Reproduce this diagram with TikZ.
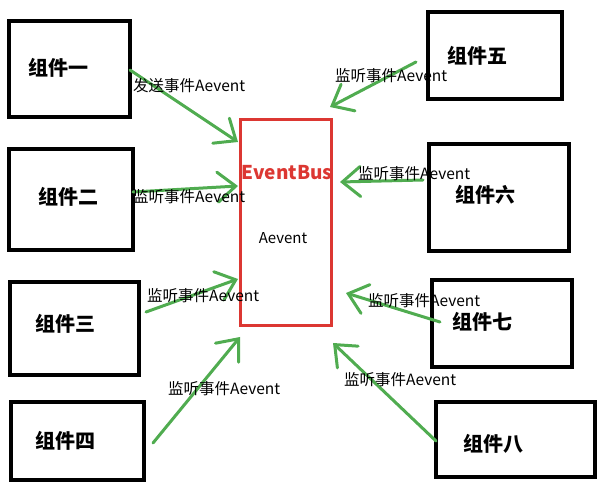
\documentclass[tikz,border=0pt]{standalone}
\usepackage{fontspec}
\setmainfont{Noto Sans CJK SC}
\usetikzlibrary{positioning,arrows.meta}
\definecolor{busred}{RGB}{220,55,50}
\definecolor{pen}{RGB}{80,172,80}

\begin{document}
\begin{tikzpicture}[x=1pt,y=-1pt,
	comp/.style={draw=black,line width=4pt,minimum width=#1,inner sep=0pt},
	compname/.style={font=\fontsize{20}{20}\selectfont\bfseries},
	msg/.style={font=\fontsize{15.5}{15.5}\selectfont,anchor=west,inner sep=0pt},
	send/.style={draw=pen,line width=3pt,line cap=round,
		-{Straight Barb[length=18pt,width=30pt,line cap=round]}}]

		\useasboundingbox (0,0) rectangle (598,500);

		% the bus in the middle
		\node[draw=busred,line width=3pt,minimum width=91pt,minimum height=206pt,inner sep=0pt] (bus) at (285.5,223) {};
		\node[font=\fontsize{19}{19}\selectfont\bfseries,text=busred] (busname) at (287,173) {EventBus};
		\node[font=\fontsize{15}{15}\selectfont] (busevent) at (283,238) {Aevent};

		% the left components
		\node[comp=121pt,minimum height=96pt] (c1) at (69.5,69) {};
		\node[compname] (n1) at (58,68) {组件一};
		\node[comp=124pt,minimum height=101pt] (c2) at (71,199.5) {};
		\node[compname] (n2) at (68,197) {组件二};
		\node[comp=129pt,minimum height=93pt] (c3) at (74.5,328.5) {};
		\node[compname] (n3) at (65,324) {组件三};
		\node[comp=133pt,minimum height=78pt] (c4) at (77.5,441) {};
		\node[compname] (n4) at (65,441) {组件四};

		% the right components
		\node[comp=134pt,minimum height=87pt] (c5) at (495,55.5) {};
		\node[compname] (n5) at (477,56) {组件五};
		\node[comp=140pt,minimum height=107pt] (c6) at (499,197.5) {};
		\node[compname] (n6) at (485,195) {组件六};
		\node[comp=140pt,minimum height=87pt] (c7) at (502,323.5) {};
		\node[compname] (n7) at (482,322) {组件七};
		\node[comp=159pt,minimum height=75pt] (c8) at (515.5,439.5) {};
		\node[compname] (n8) at (493,444) {组件八};

		% where the strokes start and end
		\coordinate (s1) at (130,70);   \coordinate (e1) at (238,142);
		\coordinate (s2) at (133,192);  \coordinate (e2) at (238,186);
		\coordinate (s3) at (146,312);  \coordinate (e3) at (238,279);
		\coordinate (s4) at (153,443);  \coordinate (e4) at (240,337);
		\coordinate (s5) at (416,62);   \coordinate (e5) at (330,107);
		\coordinate (s6) at (423,180);  \coordinate (e6) at (340,182);
		\coordinate (s7) at (440,322);  \coordinate (e7) at (346,293);
		\coordinate (s8) at (436,441);  \coordinate (e8) at (333,343);

		% send and listen
		\foreach \i in {1,...,8}
			\draw[send] (s\i) -- (e\i);

		% the labels on the strokes
		\node[msg] (m1) at (133,86) {发送事件Aevent};
		\node[msg] (m2) at (133,197) {监听事件Aevent};
		\node[msg] (m3) at (147,296) {监听事件Aevent};
		\node[msg] (m4) at (168,389) {监听事件Aevent};
		\node[msg] (m5) at (335,76) {监听事件Aevent};
		\node[msg] (m6) at (358,174) {监听事件Aevent};
		\node[msg] (m7) at (368,301) {监听事件Aevent};
		\node[msg] (m8) at (344,380) {监听事件Aevent};

	\end{tikzpicture}
\end{document}
